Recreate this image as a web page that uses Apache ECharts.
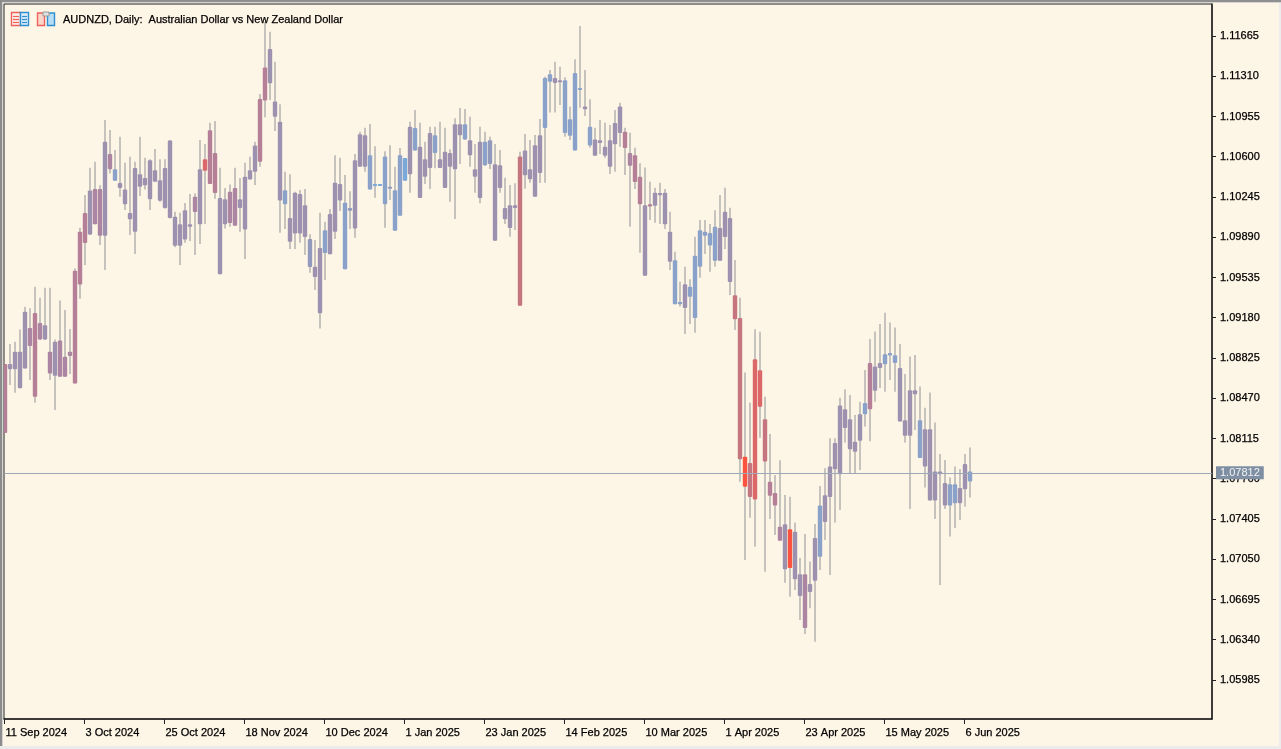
<!DOCTYPE html>
<html>
<head>
<meta charset="utf-8">
<title>AUDNZD, Daily</title>
<style>
  html, body { margin: 0; padding: 0; background: #fdf5e6; }
  #main { width: 1281px; height: 749px; }
</style>
<script src="https://cdn.jsdelivr.net/npm/echarts@6/dist/echarts.min.js"></script>
</head>
<body>
<div id="main"></div>
<script>
var chartTitle = "AUDNZD, Daily:  Australian Dollar vs New Zealand Dollar";
var lastPrice = 1.07812;

var priceLabels = [1.05985, 1.06340, 1.06695, 1.07050, 1.07405, 1.07760, 1.08115, 1.08470, 1.08825,
  1.09180, 1.09535, 1.09890, 1.10245, 1.10600, 1.10955, 1.11310, 1.11665];
var dateTicks = [0, 16, 32, 48, 64, 80, 96, 112, 128, 144, 160, 176, 192];
var dateLabels = ["11 Sep 2024", "3 Oct 2024", "25 Oct 2024", "18 Nov 2024", "10 Dec 2024", "1 Jan 2025",
  "23 Jan 2025", "14 Feb 2025", "10 Mar 2025", "1 Apr 2025", "23 Apr 2025", "15 May 2025", "6 Jun 2025"];

var highs = [
  1.08772, 1.08948, 1.08969, 1.09077, 1.09277, 1.09263, 1.09454, 1.09357, 1.09445, 1.09445,
  1.08989, 1.09333, 1.09248, 1.09080, 1.09615, 1.09974, 1.10262, 1.10503, 1.10556, 1.10348,
  1.10924, 1.10836, 1.10659, 1.10777, 1.10547, 1.10600, 1.10556, 1.10777, 1.10592, 1.10577,
  1.10668, 1.10577, 1.10577, 1.10747, 1.10115, 1.10106, 1.10192, 1.10271, 1.10277, 1.10747,
  1.10712, 1.10900, 1.10915, 1.10503, 1.10324, 1.10356, 1.10503, 1.10412, 1.10547, 1.10600,
  1.10733, 1.11153, 1.11788, 1.11703, 1.11438, 1.11062, 1.10468, 1.10445, 1.10292, 1.10307,
  1.10315, 1.09916, 1.09866, 1.10107, 1.10027, 1.10139, 1.10612, 1.10592, 1.10439, 1.10295,
  1.10624, 1.10821, 1.10856, 1.10889, 1.10692, 1.10360, 1.10648, 1.10701, 1.10512, 1.10677,
  1.10589, 1.10909, 1.11012, 1.10900, 1.10733, 1.10865, 1.10865, 1.10909, 1.10856, 1.10665,
  1.10939, 1.11030, 1.11021, 1.10953, 1.10712, 1.10865, 1.10821, 1.10777, 1.10712, 1.10659,
  1.10415, 1.10351, 1.10365, 1.10645, 1.10801, 1.10748, 1.10792, 1.10933, 1.11306, 1.11365,
  1.11438, 1.11394, 1.11300, 1.11042, 1.11459, 1.11753, 1.11365, 1.11106, 1.10856, 1.10924,
  1.10900, 1.10880, 1.11012, 1.11077, 1.10856, 1.10812, 1.10680, 1.10542, 1.10504, 1.10380,
  1.10327, 1.10371, 1.10315, 1.10115, 1.09763, 1.09498, 1.09630, 1.09519, 1.09895, 1.10042,
  1.10042, 1.10007, 1.10127, 1.10262, 1.10327, 1.10151, 1.09689, 1.09357, 1.08696, 1.08431,
  1.09078, 1.09057, 1.08484, 1.08155, 1.07793, 1.07922, 1.07617, 1.07602, 1.07373, 1.07061,
  1.07273, 1.07029, 1.07361, 1.07696, 1.07852, 1.08116, 1.08116, 1.08475, 1.08549, 1.08499,
  1.08323, 1.08440, 1.08720, 1.08993, 1.09058, 1.09125, 1.09225, 1.09137, 1.09093, 1.08949,
  1.08684, 1.08837, 1.08852, 1.08573, 1.08387, 1.08520, 1.08255, 1.07979, 1.07926, 1.07770,
  1.07867, 1.07846, 1.07979, 1.08035
];
var bodyTops = [
  1.08772, 1.08772, 1.08880, 1.08880, 1.09233, 1.09089, 1.09222, 1.09133, 1.09113, 1.08880,
  1.08969, 1.08980, 1.08836, 1.08880, 1.09595, 1.09939, 1.10104, 1.10303, 1.10315, 1.10315,
  1.10733, 1.10624, 1.10489, 1.10368, 1.10312, 1.10104, 1.10500, 1.10445, 1.10412, 1.10568,
  1.10480, 1.10392, 1.10500, 1.10744, 1.10071, 1.10004, 1.10127, 1.10004, 1.10248, 1.10489,
  1.10577, 1.10833, 1.10633, 1.10236, 1.10224, 1.10292, 1.10324, 1.10224, 1.10424, 1.10480,
  1.10700, 1.11109, 1.11386, 1.11550, 1.11086, 1.10909, 1.10304, 1.10060, 1.10283, 1.10271,
  1.10171, 1.09874, 1.09630, 1.09795, 1.09951, 1.10095, 1.10371, 1.10360, 1.10195, 1.10148,
  1.10568, 1.10798, 1.10789, 1.10612, 1.10360, 1.10360, 1.10601, 1.10336, 1.10304, 1.10612,
  1.10589, 1.10865, 1.10853, 1.10689, 1.10577, 1.10809, 1.10789, 1.10577, 1.10645, 1.10633,
  1.10886, 1.10886, 1.10886, 1.10745, 1.10489, 1.10733, 1.10733, 1.10745, 1.10533, 1.10524,
  1.10148, 1.10171, 1.10171, 1.10601, 1.10656, 1.10489, 1.10701, 1.10789, 1.11294, 1.11327,
  1.11294, 1.11274, 1.11274, 1.10930, 1.11339, 1.11206, 1.11042, 1.10865, 1.10753, 1.10745,
  1.10689, 1.10745, 1.10898, 1.11042, 1.10821, 1.10633, 1.10612, 1.10424, 1.10171, 1.10180,
  1.10283, 1.10280, 1.10283, 1.09939, 1.09686, 1.09319, 1.09475, 1.09454, 1.09727, 1.09951,
  1.09939, 1.09927, 1.09983, 1.09971, 1.10115, 1.10060, 1.09378, 1.09178, 1.07955, 1.07899,
  1.08813, 1.08716, 1.08284, 1.07734, 1.07634, 1.07337, 1.07358, 1.07314, 1.07293, 1.06917,
  1.06917, 1.06832, 1.07237, 1.07523, 1.07614, 1.07867, 1.08075, 1.08405, 1.08373, 1.08284,
  1.08087, 1.08329, 1.08429, 1.08781, 1.08749, 1.08781, 1.08858, 1.08870, 1.08849, 1.08737,
  1.08276, 1.08540, 1.08540, 1.08276, 1.08196, 1.08196, 1.07823, 1.07823, 1.07723, 1.07711,
  1.07711, 1.07679, 1.07891, 1.07823
];
var bodyBottoms = [
  1.08163, 1.08725, 1.08725, 1.08557, 1.08733, 1.08930, 1.08484, 1.08989, 1.08989, 1.08689,
  1.08669, 1.08660, 1.08660, 1.08842, 1.08601, 1.09474, 1.09839, 1.09915, 1.10004, 1.09904,
  1.09904, 1.10489, 1.10389, 1.10324, 1.10180, 1.10048, 1.09939, 1.10336, 1.10348, 1.10224,
  1.10380, 1.10212, 1.10148, 1.10059, 1.09815, 1.09815, 1.09871, 1.09983, 1.10112, 1.10004,
  1.10477, 1.10359, 1.10280, 1.09563, 1.10004, 1.10015, 1.09992, 1.10148, 1.09959, 1.10400,
  1.10468, 1.10556, 1.11095, 1.11247, 1.10953, 1.10213, 1.10180, 1.09851, 1.09924, 1.09924,
  1.09892, 1.09627, 1.09539, 1.09219, 1.09751, 1.09739, 1.09939, 1.10213, 1.09607, 1.10124,
  1.09968, 1.10512, 1.10512, 1.10312, 1.10345, 1.10351, 1.10180, 1.10321, 1.09948, 1.10080,
  1.10389, 1.10445, 1.10656, 1.10236, 1.10424, 1.10501, 1.10633, 1.10501, 1.10324, 1.10512,
  1.10489, 1.10789, 1.10753, 1.10612, 1.10424, 1.10236, 1.10524, 1.10536, 1.09860, 1.10324,
  1.10048, 1.09971, 1.10148, 1.09286, 1.10436, 1.10401, 1.10248, 1.10457, 1.10853, 1.11262,
  1.11250, 1.11262, 1.10809, 1.10786, 1.10656, 1.11194, 1.11018, 1.10698, 1.10609, 1.10721,
  1.10609, 1.10512, 1.10709, 1.10809, 1.10677, 1.10521, 1.10377, 1.10180, 1.09551, 1.10160,
  1.10168, 1.10260, 1.10004, 1.09674, 1.09298, 1.09298, 1.09266, 1.09366, 1.09178, 1.09630,
  1.09904, 1.09816, 1.09683, 1.09683, 1.09892, 1.09495, 1.09166, 1.07931, 1.07690, 1.07599,
  1.07578, 1.08396, 1.07911, 1.07611, 1.07523, 1.07214, 1.06961, 1.06973, 1.06873, 1.06726,
  1.06444, 1.06761, 1.06861, 1.07073, 1.07379, 1.07599, 1.07843, 1.07799, 1.08208, 1.08020,
  1.07999, 1.08096, 1.08329, 1.08373, 1.08537, 1.08737, 1.08770, 1.08846, 1.08781, 1.08264,
  1.08140, 1.08140, 1.08505, 1.07943, 1.07867, 1.07567, 1.07567, 1.07799, 1.07523, 1.07523,
  1.07544, 1.07544, 1.07667, 1.07735
];
var lows = [
  1.08163, 1.08586, 1.08519, 1.08557, 1.08733, 1.08631, 1.08431, 1.08983, 1.08983, 1.08631,
  1.08366, 1.08660, 1.08660, 1.08684, 1.08601, 1.09348, 1.09645, 1.09909, 1.10004, 1.09821,
  1.09601, 1.10453, 1.10389, 1.10248, 1.10130, 1.09909, 1.09742, 1.10253, 1.10312, 1.10130,
  1.10380, 1.10203, 1.10142, 1.10056, 1.09801, 1.09645, 1.09842, 1.09857, 1.09733, 1.09830,
  1.10007, 1.10359, 1.10230, 1.09563, 1.09968, 1.09983, 1.09992, 1.09939, 1.09698, 1.10400,
  1.10350, 1.10512, 1.10948, 1.11100, 1.10827, 1.09930, 1.09963, 1.09786, 1.09786, 1.09842,
  1.09733, 1.09577, 1.09425, 1.09084, 1.09513, 1.09739, 1.09874, 1.10121, 1.09607, 1.09963,
  1.09886, 1.10512, 1.10468, 1.10312, 1.10239, 1.10351, 1.09974, 1.10218, 1.09948, 1.10080,
  1.10389, 1.10283, 1.10656, 1.10236, 1.10360, 1.10315, 1.10498, 1.10501, 1.10324, 1.10204,
  1.10051, 1.10536, 1.10748, 1.10512, 1.10283, 1.10189, 1.10518, 1.10492, 1.09860, 1.10283,
  1.10007, 1.09895, 1.09954, 1.09286, 1.10318, 1.10371, 1.10248, 1.10368, 1.10371, 1.10989,
  1.10989, 1.11056, 1.10777, 1.10748, 1.10656, 1.11033, 1.10959, 1.10680, 1.10609, 1.10624,
  1.10592, 1.10448, 1.10468, 1.10689, 1.10439, 1.09983, 1.10315, 1.09754, 1.09551, 1.10042,
  1.10018, 1.10007, 1.09963, 1.09601, 1.09298, 1.09278, 1.09037, 1.09125, 1.09048, 1.09533,
  1.09742, 1.09586, 1.09630, 1.09683, 1.09786, 1.09380, 1.09072, 1.07734, 1.07043, 1.07417,
  1.07161, 1.08122, 1.06940, 1.07405, 1.07264, 1.07214, 1.06843, 1.06720, 1.06779, 1.06514,
  1.06391, 1.06617, 1.06323, 1.06955, 1.07220, 1.06911, 1.07373, 1.07484, 1.08079, 1.07808,
  1.07808, 1.07838, 1.08220, 1.08090, 1.08440, 1.08561, 1.08528, 1.08631, 1.08528, 1.08264,
  1.08079, 1.07494, 1.08190, 1.07943, 1.07682, 1.07567, 1.07405, 1.06823, 1.07494, 1.07250,
  1.07326, 1.07397, 1.07514, 1.07594
];
// how far each bar sits on the blue -> red shading of the indicator (0 blue, 8 red)
var tones = [
  5, 3, 3, 3, 3, 4, 5, 4, 3, 4,
  3, 4, 4, 4, 5, 5, 5, 3, 4, 4,
  3, 4, 1, 3, 3, 3, 3, 3, 3, 3,
  3, 3, 3, 3, 3, 3, 3, 3, 4, 3,
  7, 5, 5, 3, 3, 4, 4, 3, 3, 3,
  3, 5, 5, 3, 3, 3, 1, 3, 3, 3,
  3, 2, 3, 3, 1, 3, 3, 3, 1, 2,
  3, 3, 3, 1, 0, 0, 1, 2, 1, 1,
  0, 3, 1, 3, 3, 3, 1, 3, 3, 3,
  3, 3, 1, 3, 3, 3, 1, 2, 3, 3,
  3, 3, 3, 6, 3, 3, 3, 3, 1, 1,
  3, 3, 1, 1, 1, 1, 3, 1, 3, 3,
  3, 3, 3, 3, 5, 4, 5, 5, 3, 5,
  3, 3, 3, 3, 1, 1, 3, 1, 1, 1,
  1, 1, 1, 3, 3, 3, 6, 6, 8, 6,
  7, 7, 6, 5, 5, 4, 3, 8, 3, 3,
  4, 3, 3, 1, 3, 3, 3, 3, 3, 3,
  3, 3, 1, 5, 3, 3, 1, 1, 1, 3,
  3, 3, 3, 1, 3, 3, 3, 3, 3, 1,
  1, 3, 3, 1
];
var tonePalette = ["#7aa8d8", "#8aa1c9", "#9399bd", "#9d91b0", "#ab85a2", "#b47f97", "#c4757f", "#dc6768", "#fb5340"];

var uiFont = "'Liberation Sans', sans-serif";
var bars = [];
for (var i = 0; i < highs.length; i++) {
  bars.push([i, highs[i], bodyTops[i], bodyBottoms[i], lows[i], tones[i]]);
}

function renderBar(params, api) {
  var i = api.value(0);
  var hi = api.coord([i, api.value(1)]);
  var top = api.coord([i, api.value(2)]);
  var bot = api.coord([i, api.value(3)]);
  var lo = api.coord([i, api.value(4)]);
  var x = Math.round(hi[0]);
  var h = Math.max(bot[1] - top[1], 2);
  return {
    type: "group",
    children: [{
      type: "line",
      shape: { x1: x, y1: hi[1], x2: x, y2: lo[1] },
      style: { stroke: "#a9a7a8", lineWidth: 1.3 }
    }, {
      type: "rect",
      shape: { x: x - 2.2, y: top[1], width: 4.4, height: h, r: 1 },
      style: { fill: tonePalette[api.value(5)] }
    }]
  };
}

// the two little toolbar icons top left
function iconParts() {
  var red = "#ee625c", blue = "#2f8fd0";
  var parts = [
    { type: "rect", shape: { x: 11.5, y: 12.5, width: 9, height: 13 }, style: { fill: "#fff1ea", stroke: red, lineWidth: 1.4 } },
    { type: "rect", shape: { x: 20.5, y: 12.5, width: 8, height: 13 }, style: { fill: "#dcedf9", stroke: blue, lineWidth: 1.4 } },
    { type: "rect", shape: { x: 37.5, y: 13, width: 7, height: 12.5 }, style: { fill: "#fbd6cb", stroke: red, lineWidth: 1.4 } },
    { type: "rect", shape: { x: 47.5, y: 13, width: 7, height: 12.5 }, style: { fill: "#b8def6", stroke: blue, lineWidth: 1.4 } },
    { type: "rect", shape: { x: 43, y: 12, width: 6, height: 4 }, style: { fill: "#e2e2e2", stroke: "#999", lineWidth: 1 } }
  ];
  [16.5, 19.5, 22.5].forEach(function(y) {
    parts.push({ type: "line", shape: { x1: 13, y1: y, x2: 19, y2: y }, style: { stroke: red, lineWidth: 1.2 } });
    parts.push({ type: "line", shape: { x1: 22, y1: y, x2: 27, y2: y }, style: { stroke: blue, lineWidth: 1.2 } });
  });
  return parts;
}

var myChart = echarts.init(document.getElementById("main"), null, { renderer: "canvas" });
var option = {
  animation: false,
  backgroundColor: "#fdf5e6",
  title: {
    text: chartTitle,
    left: 58,
    top: 9,
    textStyle: { color: "#000", fontFamily: uiFont, fontSize: 11, fontWeight: "normal", textBorderColor: "#000", textBorderWidth: 0.25 }
  },
  grid: { left: 4, right: 69, top: 4, bottom: 30, show: true, borderColor: "#222", borderWidth: 1, backgroundColor: "#fdf5e6" },
  xAxis: {
    type: "value",
    min: -0.1,
    max: 241.5,
    splitLine: { show: false },
    axisLine: { show: true, onZero: false, lineStyle: { color: "#222", width: 1.5 } },
    axisTick: { show: true, length: 5, customValues: dateTicks, lineStyle: { color: "#222" } },
    axisLabel: {
      customValues: dateTicks,
      align: "left",
      margin: 8,
      padding: [0, 0, 0, 1],
      color: "#000",
      fontFamily: uiFont,
      fontSize: 11,
      textBorderColor: "#000",
      textBorderWidth: 0.25,
      formatter: function(v) { return dateLabels[dateTicks.indexOf(v)]; }
    }
  },
  yAxis: {
    type: "value",
    position: "right",
    min: 1.05641,
    max: 1.11947,
    splitLine: { show: false },
    axisLine: { show: true, onZero: false, lineStyle: { color: "#222", width: 1.5 } },
    axisTick: { show: true, length: 4, customValues: priceLabels, lineStyle: { color: "#222" } },
    axisLabel: {
      customValues: priceLabels,
      margin: 8,
      padding: [3, 0, 0, 0],
      color: "#000",
      fontFamily: uiFont,
      fontSize: 11,
      textBorderColor: "#000",
      textBorderWidth: 0.25,
      formatter: function(v) { return v.toFixed(5); }
    }
  },
  series: [{
    type: "custom",
    clip: true,
    renderItem: renderBar,
    data: bars,
    encode: { x: 0, y: [1, 4] },
    z: 3,
    markLine: {
      silent: true,
      symbol: "none",
      animation: false,
      precision: 5,
      z: 10,
      lineStyle: { color: "#9aa8b8", type: "solid", width: 1 },
      label: {
        position: "end",
        distance: 4,
        formatter: lastPrice.toFixed(5),
        color: "#f4f4f4",
        fontFamily: uiFont,
        fontSize: 11,
        backgroundColor: "#7e8fa3",
        padding: [1, 4, 1, 4]
      },
      data: [{ yAxis: lastPrice }]
    }
  }],
  graphic: { elements: [
    { type: "rect", shape: { x: 0, y: 0, width: 1281, height: 2 }, style: { fill: "#8f8f8f" }, silent: true },
    { type: "rect", shape: { x: 2, y: 2, width: 1279, height: 1 }, style: { fill: "#d4d4d4" }, silent: true },
    { type: "rect", shape: { x: 0, y: 0, width: 2, height: 746 }, style: { fill: "#8c8c8c" }, silent: true },
    { type: "rect", shape: { x: 2, y: 2, width: 1, height: 744 }, style: { fill: "#d4d4d4" }, silent: true },
    { type: "rect", shape: { x: 0, y: 746, width: 1281, height: 3 }, style: { fill: "#ececec" }, silent: true },
    { type: "rect", shape: { x: 1279, y: 3, width: 2, height: 746 }, style: { fill: "#ececec" }, silent: true },
    { type: "group", children: iconParts(), silent: true }
  ] }
};
myChart.setOption(option);
</script>
</body>
</html>
